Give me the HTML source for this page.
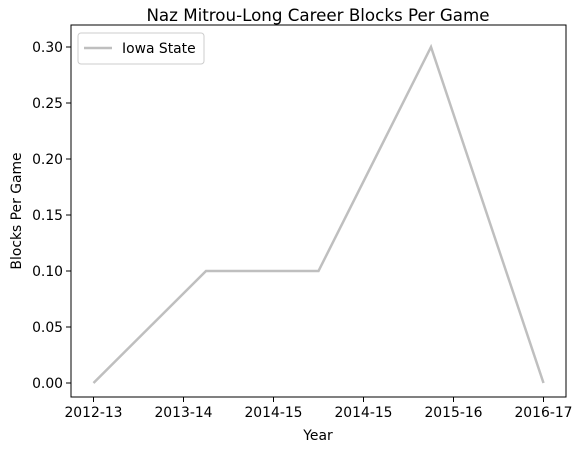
<!DOCTYPE html>
<html><head><meta charset="utf-8"><style>
html,body{margin:0;padding:0;background:#fff;}
svg{display:block;font-family:"DejaVu Sans","Liberation Sans",sans-serif;}
</style></head><body>
<svg id="chart" width="582" height="453" xmlns="http://www.w3.org/2000/svg">
<text x="318" y="21" text-anchor="middle" font-size="16.7" fill="#000">Naz Mitrou-Long Career Blocks Per Game</text>
<text x="318" y="440" text-anchor="middle" font-size="13.9" fill="#000">Year</text>
<text transform="translate(21,211) rotate(-90)" text-anchor="middle" font-size="13.9" fill="#000">Blocks Per Game</text>
<g id="plot"></g>
</svg>
<script>
const tickLabels = ["2012-13","2013-14","2014-15","2014-15","2015-16","2016-17"];
const values = [0, 0.1, 0.1, 0.3, 0];
const yTicks = [0, 0.05, 0.10, 0.15, 0.20, 0.25, 0.30];
const seriesName = "Iowa State";

const L=71, R=566, T=25, B=397;
const xMin=-0.2, xMax=4.2;
const x = v => L + (v - xMin) / (xMax - xMin) * (R - L);
const y = v => 383 - v / 0.3 * 336;
const NS="http://www.w3.org/2000/svg";
const g=document.getElementById('plot');
function mk(tag, attrs){const e=document.createElementNS(NS,tag);for(const k in attrs)e.setAttribute(k,attrs[k]);g.appendChild(e);return e;}

yTicks.forEach(t=>{
  const tk=mk('line',{x1:L-5,x2:L,y1:y(t),y2:y(t),stroke:'#000','stroke-width':1});
  
  
  const lb=mk('text',{x:L-8,y:y(t)+5,'text-anchor':'end','font-size':13.9});
  lb.textContent=t.toFixed(2);
  
  
});
const n=tickLabels.length;
tickLabels.forEach((lab,i)=>{
  const v=i*(values.length-1)/(n-1);
  const tk=mk('line',{x1:x(v),x2:x(v),y1:B,y2:B+5,stroke:'#000','stroke-width':1});
  
  
  const lb=mk('text',{x:x(v),y:B+20,'text-anchor':'middle','font-size':13.9});
  lb.textContent=lab;
  
  
});
const pts=values.map((v,i)=>x(i)+','+y(v)).join(' ');
const line=mk('polyline',{points:pts,fill:'none',stroke:'#bfbfbf','stroke-width':2.5});


const fr=mk('rect',{x:L,y:T,width:R-L,height:B-T,fill:'none',stroke:'#000','stroke-width':1});


const lg=mk('rect',{x:78,y:33,width:126,height:31,rx:3,fill:'#fff',stroke:'#ccc','stroke-width':1});


const ll=mk('line',{x1:84,x2:112,y1:48,y2:48,stroke:'#bfbfbf','stroke-width':2.5});


const lt=mk('text',{x:122,y:53,'font-size':13.9});
lt.textContent=seriesName;


</script>
</body></html>
